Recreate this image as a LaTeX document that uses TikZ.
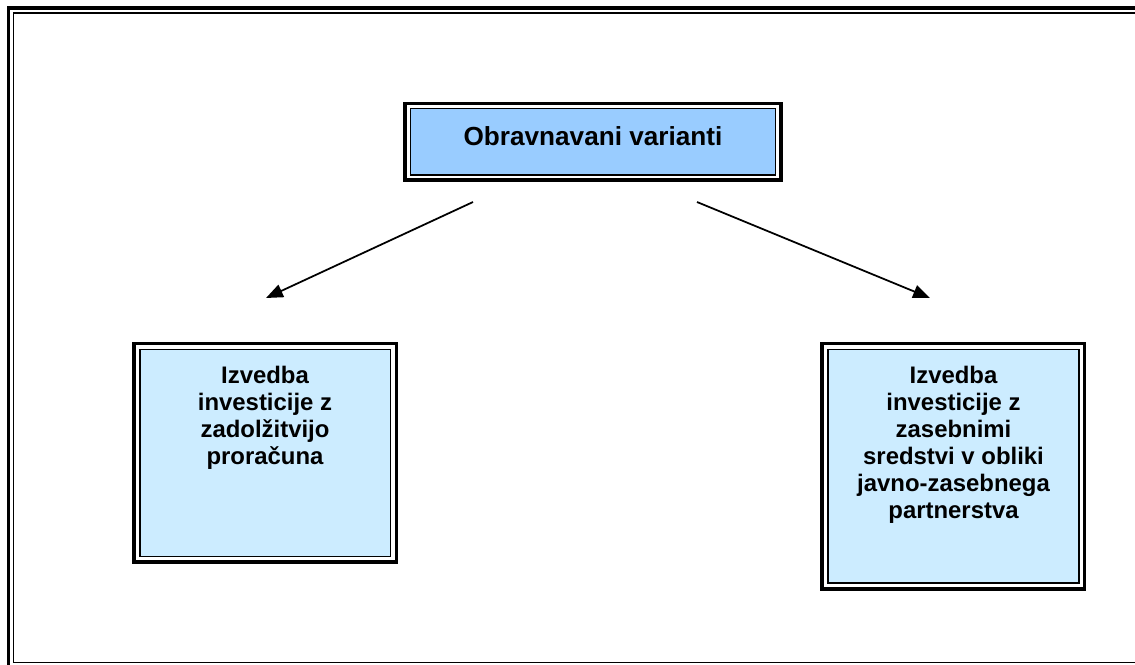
\documentclass[tikz,border=0pt]{standalone}
\usepackage{fontspec}
\setmainfont{Liberation Sans}
\usepackage{tikz}
\usetikzlibrary{arrows.meta,calc}
\definecolor{topblue}{RGB}{153,204,255}
\definecolor{paleblue}{RGB}{204,236,255}

\begin{document}
\begin{tikzpicture}[x=0.025cm,y=-0.025cm,
    outerline/.style={fill=white,draw=black,line width=2.2pt},
    innerline/.style={draw=black,line width=1.4pt},
    boxtext/.style={anchor=north,align=center,inner sep=0pt,font=\fontsize{17}{19.2}\selectfont\bfseries},
    arrowline/.style={-{Triangle[length=12pt,width=9.5pt]},line width=1.25pt}]
            \useasboundingbox (0,0) rectangle (1135,664);
            \clip (0,0) rectangle (1135,664);
            \coordinate (f1) at (8.5,8);
            \coordinate (f2) at (1160,690);
            \coordinate (f3) at (13.5,13);
            \coordinate (f4) at (1150,662.5);
            \coordinate (t1) at (405,103.5);
            \coordinate (t2) at (781,180);
            \coordinate (t3) at (410.5,108.5);
            \coordinate (t4) at (775.5,175);
            \coordinate (l1) at (134,343.5);
            \coordinate (l2) at (396.5,562);
            \coordinate (l3) at (140,349.5);
            \coordinate (l4) at (390.5,556.5);
            \coordinate (r1) at (822,343.5);
            \coordinate (r2) at (1084.5,589);
            \coordinate (r3) at (828,349.5);
            \coordinate (r4) at (1078.5,583);
            \coordinate (a1) at (473,202);
            \coordinate (a2) at (266,298);
            \coordinate (a3) at (697,202);
            \coordinate (a4) at (930,298);
            %Frame
            \draw[line width=2.2pt] (f1) rectangle (f2);
            \draw[line width=1.1pt] (f3) rectangle (f4);
            %Boxes
            \draw[outerline] (t1) rectangle (t2);
            \draw[innerline,fill=topblue] (t3) rectangle (t4);
            \draw[outerline] (l1) rectangle (l2);
            \draw[innerline,fill=paleblue] (l3) rectangle (l4);
            \draw[outerline] (r1) rectangle (r2);
            \draw[innerline,fill=paleblue] (r3) rectangle (r4);
            %Texts
            \node[anchor=base,inner sep=0pt,font=\fontsize{18.6}{22}\selectfont\bfseries] (top) at (593,145) {Obravnavani varianti};
            \node[boxtext] (left) at (265,366) {Izvedba\\investicije z\\zadolžitvijo\\proračuna};
            \node[boxtext] (right) at (953.5,366) {Izvedba\\investicije z\\zasebnimi\\sredstvi v obliki\\javno-zasebnega\\partnerstva};
            %Arrows
            \draw[arrowline] (a1) -- (a2);
            \draw[arrowline] (a3) -- (a4);
        \end{tikzpicture}
\end{document}
